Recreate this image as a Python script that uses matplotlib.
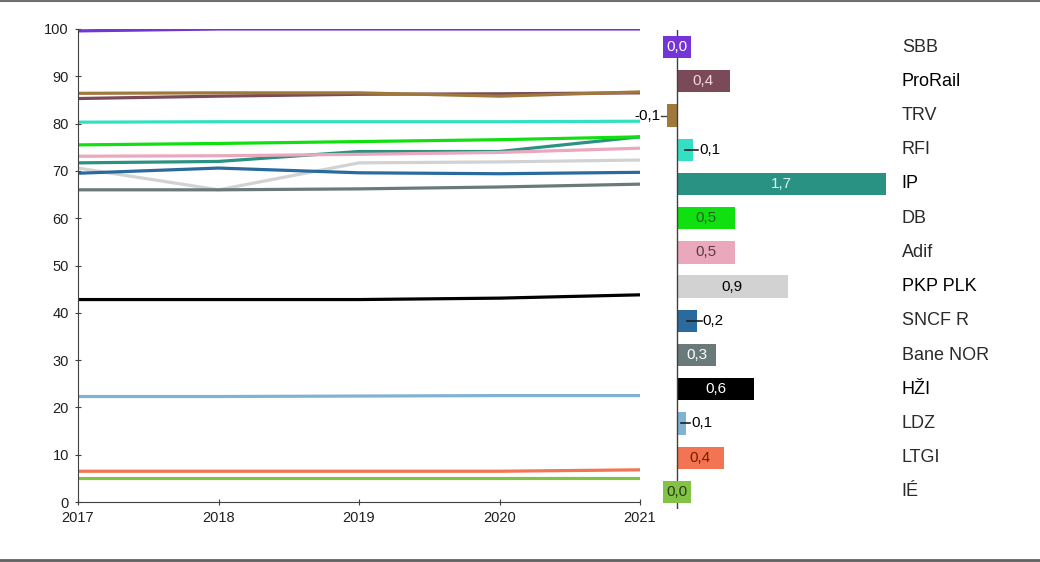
import matplotlib.pyplot as plt
from matplotlib.lines import Line2D

plt.rcParams['font.family'] = ['Liberation Sans', 'DejaVu Sans']

years = [2017, 2018, 2019, 2020, 2021]

# network scores per year (0-100)
sbb = [99.6, 100, 100, 100, 100]
prorail = [85.3, 85.8, 86.2, 86.3, 86.5]
trv = [86.4, 86.5, 86.5, 85.8, 86.7]
rfi = [80.3, 80.4, 80.4, 80.4, 80.5]
ip = [71.7, 72.0, 74.1, 74.1, 77.2]
db = [75.5, 75.8, 76.2, 76.6, 77.2]
adif = [73.1, 73.2, 73.5, 73.9, 74.8]
pkp = [70.6, 66.0, 71.7, 71.9, 72.3]
sncf = [69.5, 70.6, 69.6, 69.4, 69.7]
bane = [66.0, 66.0, 66.2, 66.6, 67.2]
hzi = [42.8, 42.8, 42.8, 43.1, 43.8]
ldz = [22.3, 22.3, 22.4, 22.5, 22.5]
ltgi = [6.5, 6.5, 6.5, 6.5, 6.8]
ie = [5.0, 5.0, 5.0, 5.0, 5.0]

names = ['SBB', 'ProRail', 'TRV', 'RFI', 'IP', 'DB', 'Adif', 'PKP PLK',
         'SNCF R', 'Bane NOR', 'HŽI', 'LDZ', 'LTGI', 'IÉ']
series = [sbb, prorail, trv, rfi, ip, db, adif, pkp, sncf, bane, hzi, ldz, ltgi, ie]
change = [0.0, 0.43, -0.08, 0.13, 1.7, 0.47, 0.47, 0.9, 0.16, 0.32, 0.63, 0.07, 0.38, 0.0]

colors = ['#7434d8', '#7a4a58', '#a0783c', '#34e0c4', '#2a9282', '#10e010',
          '#eaa8bc', '#d2d2d2', '#2a6a9c', '#6a7a7a', '#000000', '#80b2d2',
          '#f27452', '#82c244']
label_colors = ['white', '#f4d8e0', 'black', 'black', '#d8f4ee', '#2a5a2a',
                '#5a3a48', 'black', 'black', 'white', 'white', 'black',
                '#7a1a00', '#2a3a1a']
dark = ['ProRail', 'IP', 'PKP PLK', 'HŽI']

fig = plt.figure(figsize=(10.4, 5.62), dpi=100)
W, H = 1040, 562

# line chart
ax = fig.add_axes([78 / W, 1 - 502 / H, (640 - 78) / W, (502 - 29) / H])
for s, c in zip(series, colors):
    ax.plot(years, s, color=c, lw=2.3, solid_capstyle='butt')
ax.set_xlim(2017, 2021)
ax.set_ylim(0, 100)
ax.set_xticks(years)
ax.set_yticks(range(0, 101, 10))
ax.tick_params(axis='both', labelsize=10.5, direction='inout', length=5,
               color='#404040', labelcolor='#202020', pad=4)
ax.spines['top'].set_visible(False)
ax.spines['right'].set_visible(False)
for sp in ['left', 'bottom']:
    ax.spines[sp].set_color('#404040')

# change bars
bx = fig.add_axes([658.5 / W, 1 - 509 / H, (892 - 658.5) / W, (509 - 30) / H])
rows = list(range(len(names)))
bx.barh(rows, change, height=0.65, color=colors)
bx.set_xlim(-0.15, 1.75)
bx.set_ylim(13.5, -0.5)
bx.axvline(0, color='#404040', lw=1)
bx.axis('off')

for i, (v, c, tc, n) in enumerate(zip(change, colors, label_colors, names)):
    txt = f'{v:.1f}'.replace('.', ',')
    if abs(v) < 0.01:
        bx.text(0, i, txt, ha='center', va='center', fontsize=11, color=tc,
                bbox=dict(boxstyle='square,pad=0.25', fc=c, ec='none'))
    elif v < 0:
        bx.plot([v - 0.01, v - 0.05], [i, i], color='#404040', lw=1)
        bx.text(v - 0.05, i, txt, ha='right', va='center', fontsize=11, color='black')
    elif v < 0.25:
        bx.plot([v * 0.5, v + 0.04], [i, i], color='#202020', lw=1.2)
        bx.text(v + 0.05, i, txt, ha='left', va='center', fontsize=11, color='black')
    else:
        bx.text(v / 2, i, txt, ha='center', va='center', fontsize=11, color=tc)
    bx.text(1.83, i, n, ha='left', va='center', fontsize=13,
            color='black' if n in dark else '#2a2a2a', clip_on=False)

# grey rules at top and bottom of the picture
fig.lines.append(Line2D([0, 1], [0.999, 0.999], transform=fig.transFigure,
                        color='#707070', lw=1.5))
fig.lines.append(Line2D([0, 1], [0.004, 0.004], transform=fig.transFigure,
                        color='#606060', lw=2))

fig.savefig('out.png', dpi=100)
